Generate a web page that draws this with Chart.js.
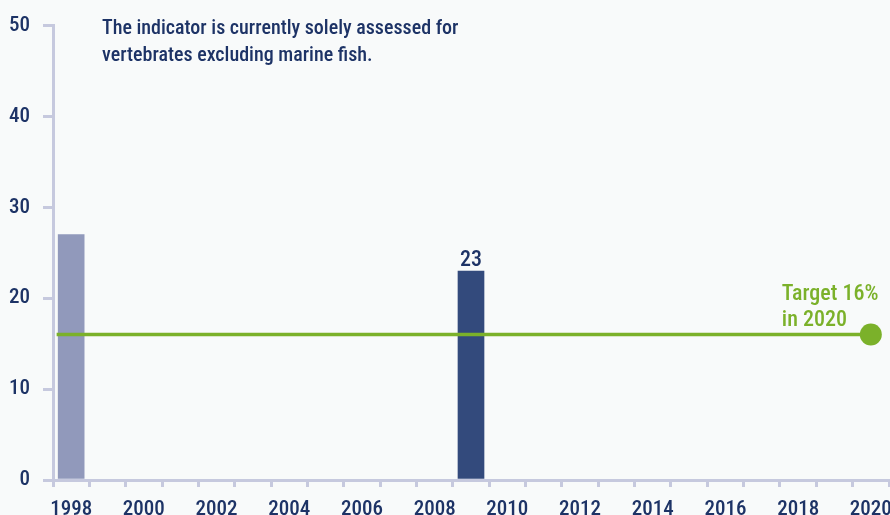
<!DOCTYPE html>
<html>
<head>
<meta charset="utf-8">
<script src="https://cdn.jsdelivr.net/npm/chart.js@4.4.1/dist/chart.umd.min.js"></script>
<style>
  html, body { margin: 0; padding: 0; background: #f8fafa; }
  #wrap { width: 890px; height: 515px; }
</style>
</head>
<body>
<div id="wrap"><canvas id="chart"></canvas></div>
<script>
const years = ['1998', '1999', '2000', '2001', '2002', '2003', '2004', '2005', '2006', '2007', '2008',
  '2009', '2010', '2011', '2012', '2013', '2014', '2015', '2016', '2017', '2018', '2019', '2020'];
const barYears = ['1998', '2009'];
const barValues = [27, 23];
const labelledYears = ['2009'];
const targetValue = 16;
const targetFrom = 1997.6;
const targetYear = 2020;
const targetText = ['Target 16%', 'in 2020'];
const noteText = ['The indicator is currently solely assessed for', 'vertebrates excluding marine fish.'];

const NAVY = '#1d3366';
const AXIS = '#c6c9de';
const GREEN = '#7bb12a';
const FONT = "'Roboto Condensed', Roboto, sans-serif";

// one slot per year, empty where nothing was measured
const barData = years.map(y => {
  const i = barYears.indexOf(y);
  return i >= 0 ? barValues[i] : null;
});
const barColors = years.map(y => (y === '1998' ? '#9199bb' : '#334a7c'));

const background = {
  id: 'background',
  beforeDraw(chart) {
    const ctx = chart.ctx;
    ctx.save();
    ctx.fillStyle = '#f8fafa';
    ctx.fillRect(0, 0, chart.width, chart.height);
    ctx.restore();
  }
};

const annotations = {
  id: 'annotations',
  afterDatasetsDraw(chart) {
    const ctx = chart.ctx;
    ctx.save();
    // value on top of the labelled bars
    const bars = chart.getDatasetMeta(0).data;
    ctx.fillStyle = NAVY;
    ctx.font = '500 22px ' + FONT;
    ctx.textAlign = 'center';
    ctx.textBaseline = 'alphabetic';
    years.forEach((y, i) => {
      if (labelledYears.includes(y)) ctx.fillText(String(barData[i]), bars[i].x, bars[i].y - 5);
    });
    // target label next to the end point
    const pts = chart.getDatasetMeta(1).data;
    const end = pts[pts.length - 1];
    ctx.fillStyle = GREEN;
    ctx.font = '500 22px ' + FONT;
    ctx.textAlign = 'left';
    ctx.fillText(targetText[0], end.x - 89, end.y - 35);
    ctx.fillText(targetText[1], end.x - 89, end.y - 9);
    // note in the top left corner
    ctx.fillStyle = NAVY;
    ctx.font = '500 20px ' + FONT;
    ctx.fillText(noteText[0], 102, 34);
    ctx.fillText(noteText[1], 102, 61);
    ctx.restore();
  }
};

new Chart(document.getElementById('chart'), {
  type: 'bar',
  data: {
    labels: years,
    datasets: [{
      data: barData,
      backgroundColor: barColors,
      barThickness: 26,
      grouped: false,
      order: 2
    }, {
      type: 'line',
      xAxisID: 'xLine',
      data: [{ x: targetFrom, y: targetValue }, { x: targetYear, y: targetValue }],
      borderColor: GREEN,
      borderWidth: 3.5,
      pointRadius: [0, 11],
      pointHoverRadius: [0, 11],
      pointBackgroundColor: GREEN,
      pointBorderWidth: 0,
      clip: false,
      order: 1
    }]
  },
  options: {
    responsive: true,
    maintainAspectRatio: false,
    animation: false,
    layout: { autoPadding: false, padding: { top: 22, right: 1, left: 0, bottom: 0 } },
    plugins: { legend: { display: false }, tooltip: { enabled: false } },
    scales: {
      x: {
        offset: true,
        grid: { offset: true, drawOnChartArea: false, color: AXIS, lineWidth: 3, tickLength: 7 },
        border: { color: AXIS, width: 3 },
        ticks: {
          autoSkip: false,
          maxRotation: 0,
          padding: 10,
          color: NAVY,
          font: { family: FONT, size: 21, weight: '500' },
          callback: (v, i) => (Number(years[i]) % 2 === 0 ? years[i] : '')
        },
        afterFit(scale) {
          scale.height = 35;
          scale.paddingLeft = 0;
          scale.paddingRight = 0;
        }
      },
      xLine: {
        type: 'linear',
        display: false,
        offset: false,
        min: 1997.5,
        max: 2020.5
      },
      y: {
        min: 0,
        max: 50,
        ticks: { stepSize: 10, padding: 13, color: NAVY, font: { family: FONT, size: 21, weight: '500' } },
        grid: { drawOnChartArea: false, color: AXIS, lineWidth: 3, tickLength: 10 },
        border: { color: AXIS, width: 3 },
        afterFit(scale) { scale.width = 53; }
      }
    }
  },
  plugins: [background, annotations]
});
</script>
</body>
</html>
